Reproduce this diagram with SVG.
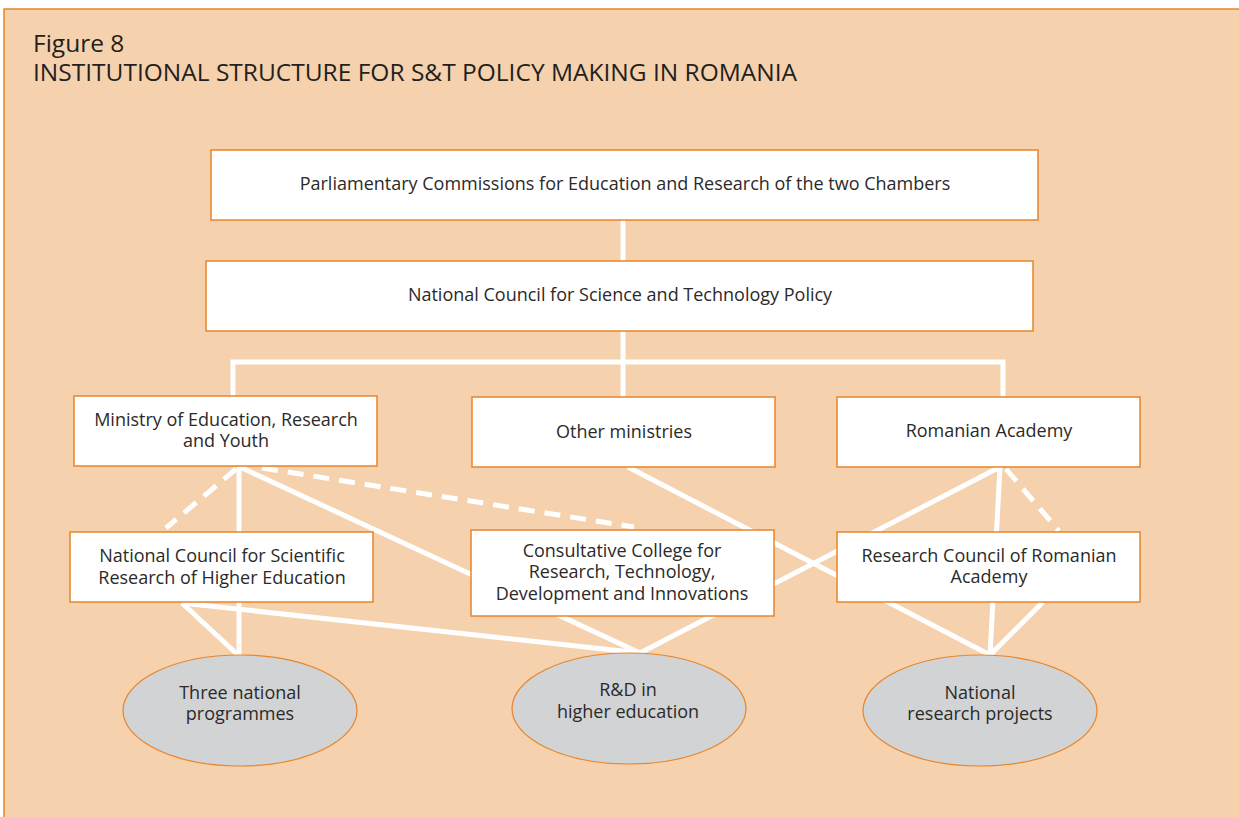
<svg xmlns="http://www.w3.org/2000/svg" width="1239" height="817" viewBox="0 0 1239 817">
<style>
.bg{fill:#F5D1AD;stroke:#E8842A;stroke-width:1.5}
.box{fill:#FFFFFF;stroke:#E8842A;stroke-width:1.5}
.ell{fill:#D1D3D4;stroke:#E8842A;stroke-width:1.2}
.t{font-family:"Open Sans","Noto Sans","Liberation Sans",sans-serif;font-size:18px;fill:#2B2A29;text-anchor:middle}
.title{font-family:"Open Sans","Noto Sans","Liberation Sans",sans-serif;font-size:24.5px;fill:#231F20}
.c{stroke:#FFFFFF;stroke-width:5;fill:none}
.d{stroke:#FFFFFF;stroke-width:5;fill:none;stroke-dasharray:16 10}
</style>
<rect class="bg" x="4" y="9" width="1250" height="820"/>
<text class="title" x="33" y="52">Figure 8</text>
<text class="title" x="33" y="81">INSTITUTIONAL STRUCTURE FOR S&amp;T POLICY MAKING IN ROMANIA</text>
<g id="connectors">
<line class="c" x1="623" y1="220" x2="623" y2="261"/>
<line class="c" x1="623" y1="331" x2="623" y2="397"/>
<polyline class="c" points="233,396 233,362 1003,362 1003,397"/>
<line class="c" x1="239" y1="467" x2="239" y2="655"/>
<line class="d" x1="236" y1="469" x2="166" y2="528"/>
<line class="c" x1="240" y1="467" x2="640" y2="653"/>
<line class="d" x1="262" y1="468" x2="634" y2="527"/>
<line class="c" x1="628" y1="467" x2="990" y2="655"/>
<line class="c" x1="1000" y1="467" x2="640" y2="653"/>
<line class="c" x1="1000" y1="467" x2="990" y2="655"/>
<line class="d" x1="1006" y1="469" x2="1059" y2="531"/>
<line class="c" x1="1043" y1="602" x2="990" y2="655"/>
<line class="c" x1="182" y1="603" x2="238" y2="655"/>
<line class="c" x1="182" y1="603" x2="640" y2="653"/>
</g>
<g id="parliament">
<rect class="box" x="211" y="150" width="827" height="70"/>
<text class="t" x="625" y="190">Parliamentary Commissions for Education and Research of the two Chambers</text>
</g>
<g id="ncstp">
<rect class="box" x="206" y="261" width="827" height="70"/>
<text class="t" x="620" y="301">National Council for Science and Technology Policy</text>
</g>
<g id="ministry">
<rect class="box" x="74" y="396" width="303" height="70"/>
<text class="t" x="226" y="426">Ministry of Education, Research</text>
<text class="t" x="226" y="447">and Youth</text>
</g>
<g id="other">
<rect class="box" x="472" y="397" width="303" height="70"/>
<text class="t" x="624" y="438">Other ministries</text>
</g>
<g id="academy">
<rect class="box" x="837" y="397" width="303" height="70"/>
<text class="t" x="989" y="437">Romanian Academy</text>
</g>
<g id="ncsrhe">
<rect class="box" x="70" y="532" width="303" height="70"/>
<text class="t" x="222" y="562">National Council for Scientific</text>
<text class="t" x="222" y="584">Research of Higher Education</text>
</g>
<g id="college">
<rect class="box" x="471" y="530" width="303" height="86"/>
<text class="t" x="622" y="557">Consultative College for</text>
<text class="t" x="622" y="578">Research, Technology,</text>
<text class="t" x="622" y="600">Development and Innovations</text>
</g>
<g id="rcra">
<rect class="box" x="837" y="532" width="303" height="70"/>
<text class="t" x="989" y="562">Research Council of Romanian</text>
<text class="t" x="989" y="583">Academy</text>
</g>
<g id="programmes">
<ellipse class="ell" cx="240" cy="710.5" rx="117" ry="55.5"/>
<text class="t" x="240" y="699">Three national</text>
<text class="t" x="240" y="720">programmes</text>
</g>
<g id="rdhe">
<ellipse class="ell" cx="629" cy="708.5" rx="117" ry="55.5"/>
<text class="t" x="628" y="696">R&amp;D in</text>
<text class="t" x="628" y="718">higher education</text>
</g>
<g id="projects">
<ellipse class="ell" cx="980" cy="710.5" rx="117" ry="55.5"/>
<text class="t" x="980" y="699">National</text>
<text class="t" x="980" y="720">research projects</text>
</g>
</svg>
